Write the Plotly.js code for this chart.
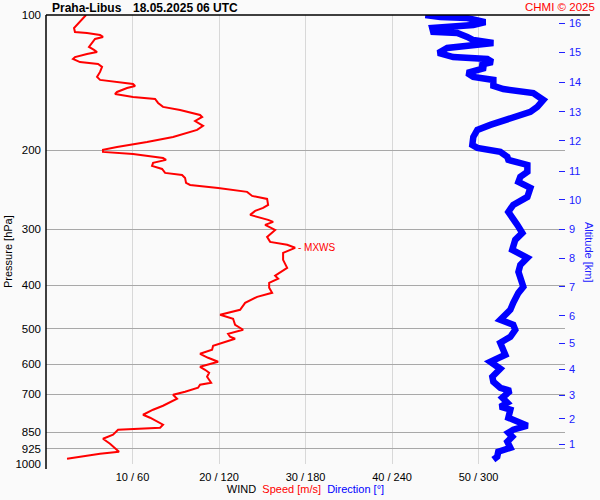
<!DOCTYPE html>
<html>
<head>
<meta charset="utf-8">
<script src="https://cdn.plot.ly/plotly-3.0.1.min.js"></script>
<style>html,body{margin:0;padding:0;background:#fafafa;}#chart{width:600px;height:500px;}</style>
</head>
<body>
<div id="chart"></div>
<script>
// Wind speed profile [m/s] vs pressure [hPa]
const speedP = [100,104.2,106.9,109.1,109.7,110.8,111.9,113.1,115.4,117.8,119.6,120.9,122.1,124.1,125.3,127.3,128.6,130.5,133.9,137.4,139.5,141.0,142.4,143.9,145.4,148.4,150.0,152.3,153.8,157.0,160.2,162.7,167.0,168.7,172.2,176.6,180.3,186.9,191.8,196.7,199.7,201.8,203.9,208.1,210.2,213.5,216.8,220.2,224.7,227.1,230.6,236.6,239.0,242.7,247.7,252.9,256.8,264.8,268.9,273.1,278.7,285.9,288.9,293.4,301.0,312.0,320.1,325.0,330.0,338.6,351.0,365.7,375.2,380.9,386.8,394.9,405.2,415.7,424.3,437.6,453.4,465.3,474.9,489.7,502.4,512.8,520.8,526.2,545.4,556.7,568.2,580.0,591.9,607.4,616.8,626.4,639.3,659.3,666.1,676.4,690.4,701.1,715.6,741.7,757.0,776.8,788.8,817.6,830.3,838.8,860.6,878.4,901.2,939.0,948.6,973.2];
const speedV = [4.63,3.70,3.24,3.35,4.74,6.25,6.59,5.67,5.32,4.97,5.55,5.90,4.74,3.35,3.12,3.93,6.02,6.48,6.25,5.90,6.25,8.21,10.06,10.30,9.37,8.21,7.98,10.06,12.61,12.96,13.53,15.50,17.81,18.05,17.24,18.16,17.47,14.69,11.68,8.21,6.59,6.59,10.06,13.53,13.88,12.38,12.26,13.42,13.77,15.73,16.08,16.19,16.66,19.90,23.25,23.83,25.56,25.68,25.10,24.18,23.60,25.68,26.26,25.33,26.49,25.56,25.91,27.88,28.80,27.41,27.41,27.88,27.07,26.49,26.84,25.80,25.80,26.14,24.41,23.02,22.44,20.13,21.63,21.86,22.79,21.05,21.28,21.86,19.32,19.20,17.81,18.74,19.90,17.81,18.39,18.86,18.62,19.09,17.81,17.58,16.08,14.69,15.15,13.53,12.38,11.22,12.03,13.53,13.19,8.33,7.75,6.59,7.40,8.44,6.25,2.43];

// Wind direction profile [deg] vs pressure [hPa]
const dirP = [100,101,101.6,103.7,105.3,105.8,106.9,109.1,109.7,111.9,113.7,115.4,117.2,118.4,121.5,124.1,125.3,127.3,129.2,131.2,134.6,137.4,139.5,143.9,146.2,149.2,154.6,160.2,164.4,169.6,175.7,180.3,186.9,194.7,197.7,201.8,207.0,210.2,215.7,223.6,229.4,235.4,242.7,254.2,264.8,274.5,283.0,293.4,305.7,316.8,333.4,342.1,347.4,360.1,373.2,403.1,415.7,437.6,453.4,477.3,489.7,502.4,520.8,537.1,562.4,571.1,591.9,613.6,639.3,655.9,676.4,686.9,712.0,730.5,745.5,757.0,788.8,809.3,821.8,838.8,851.9,869.5,892.0,920.0,939.0,963.3,978.2];
const dirV = [263.1,273.5,292.2,304.7,296.4,278.3,267.9,268.6,285.3,292.2,296.4,310.3,292.2,278.3,272.1,282.5,306.1,309.6,301.2,304.7,292.2,296.4,310.3,310.3,317.2,338.0,345.0,340.8,336.0,322.1,308.2,299.2,296.4,295.7,299.2,315.1,320.0,320.7,333.9,333.9,329.0,327.7,336.0,333.9,324.1,320.7,324.1,326.9,330.4,325.5,323.4,329.0,333.9,329.0,327.7,331.1,327.7,324.1,322.1,315.1,324.1,325.5,322.1,315.1,318.6,318.6,308.2,315.1,309.6,310.3,315.1,322.1,316.5,320.0,315.1,322.1,320.7,329.0,333.9,324.1,320.7,323.4,320.0,322.1,313.7,313.0,310.3];

// Axis ticks
const pressureTicks = [100,200,300,400,500,600,700,850,925,1000];
const speedTicks = [10,20,30,40,50,60];
const dirTicks = [60,120,180,240,300,360];
const altLabels = ['1','2','3','4','5','6','7','8','9','10','11','12','13','14','15','16'];
const altPressure = [902.6,793.6,702.1,614.4,537.7,468.1,403.4,347.8,299.7,258.2,222.6,190.8,164.4,141.0,120.9,104.2];

const FONT = "'Liberation Sans', Arial, sans-serif";
const DIR_SCALE = 6; // 1 m/s unit on the axis = 6 degrees

const xTickText = speedTicks.map((s,i) => i < speedTicks.length-1 ? s + ' / ' + dirTicks[i] : '');

let iMax = 0;
speedV.forEach((v,i) => { if (v > speedV[iMax]) iMax = i; });
const maxS = speedV[iMax], maxP = speedP[iMax];

const traces = [
  {x: dirV.map(d => d / DIR_SCALE), y: dirP, type: 'scatter', mode: 'lines',
   line: {color: '#0000ff', width: 6.5}, hoverinfo: 'skip', showlegend: false},
  {x: speedV, y: speedP, type: 'scatter', mode: 'lines',
   line: {color: '#ff0000', width: 2}, hoverinfo: 'skip', showlegend: false},
  {x: [0], y: [500], yaxis: 'y2', type: 'scatter', mode: 'markers',
   marker: {opacity: 0}, hoverinfo: 'skip', showlegend: false}
];

const layout = {
  width: 600, height: 500,
  margin: {l: 46, r: 35, t: 15, b: 36},
  paper_bgcolor: '#fafafa', plot_bgcolor: '#fafafa',
  font: {family: FONT, size: 11, color: '#000'},
  showlegend: false,
  xaxis: {
    range: [0, 60], tickvals: speedTicks, ticktext: xTickText,
    showgrid: true, gridcolor: '#d8d8d8', gridwidth: 1, zeroline: false,
    showline: false, ticks: '', tickfont: {size: 11, family: FONT},
    ticklabelstandoff: 5,
    automargin: false, fixedrange: true,
    title: {text: 'WIND  <span style="color:#ff0000">Speed [m/s]</span>  <span style="color:#0000ff">Direction [°]</span>',
            font: {size: 11, family: FONT}, standoff: 2}
  },
  yaxis: {
    type: 'log', range: [3, 2], tickvals: pressureTicks, ticktext: pressureTicks.map(String),
    showgrid: true, gridcolor: '#a8a8a8', gridwidth: 1, zeroline: false,
    showline: false, ticks: '', tickfont: {size: 11.5, family: FONT},
    ticklabelstandoff: 4,
    automargin: false, fixedrange: true
  },
  yaxis2: {
    type: 'log', range: [3, 2], overlaying: 'y', side: 'right',
    tickvals: altPressure, ticktext: altLabels,
    showgrid: false, zeroline: false, showline: false,
    ticks: 'inside', ticklen: 6, tickcolor: '#2020ff', tickwidth: 1,
    tickfont: {size: 11, family: FONT, color: '#2020ff'},
    ticklabelstandoff: 3,
    automargin: false, fixedrange: true
  },
  shapes: [
    {type: 'line', xref: 'paper', yref: 'paper', x0: 0, x1: 1.048, y0: 1, y1: 1,
     line: {color: '#000', width: 1.5}},
    {type: 'line', xref: 'paper', yref: 'paper', x0: 0, x1: 0, y0: -0.011, y1: 1,
     line: {color: '#000', width: 1.5}},
    {type: 'line', xref: 'paper', yref: 'y', x0: 0.002, x1: 0.019,
     y0: Math.log10(maxP), y1: Math.log10(maxP), line: {color: '#ff0000', width: 1}},
    {type: 'line', xref: 'paper', yref: 'y', x0: 0.98, x1: 1.006,
     y0: Math.log10(maxP), y1: Math.log10(maxP), line: {color: '#ff0000', width: 1}}
  ],
  annotations: [
    {xref: 'paper', yref: 'paper', x: (50-46)/519, y: (464-8)/449, xanchor: 'left', yanchor: 'middle',
     text: '<b>Praha-Libus</b>', showarrow: false, font: {size: 12, family: FONT, color: '#000'}},
    {xref: 'paper', yref: 'paper', x: (131-46)/519, y: (464-8)/449, xanchor: 'left', yanchor: 'middle',
     text: '<b>18.05.2025 06 UTC</b>', showarrow: false, font: {size: 12, family: FONT, color: '#000'}},
    {xref: 'paper', yref: 'paper', x: (597-46)/519, y: (464-7)/449, xanchor: 'right', yanchor: 'middle',
     text: 'CHMI © 2025', showarrow: false, font: {size: 11.5, family: FONT, color: '#ff0000'}},
    {xref: 'paper', yref: 'paper', x: (8-46)/519, y: (464-252)/449, xanchor: 'center', yanchor: 'middle',
     text: 'Pressure [hPa]', textangle: -90, showarrow: false, font: {size: 11, family: FONT, color: '#000'}},
    {xref: 'paper', yref: 'paper', x: (589-46)/519, y: (464-252)/449, xanchor: 'center', yanchor: 'middle',
     text: 'Altitude [km]', textangle: 90, showarrow: false, font: {size: 11, family: FONT, color: '#2020ff'}},
    {xref: 'x', yref: 'y', x: maxS, y: Math.log10(maxP), xanchor: 'left', yanchor: 'middle', xshift: 1,
     text: '- MXWS', showarrow: false, font: {size: 10, family: FONT, color: '#ff0000'}}
  ]
};

Plotly.newPlot('chart', traces, layout, {staticPlot: true, displayModeBar: false});
</script>
</body>
</html>
